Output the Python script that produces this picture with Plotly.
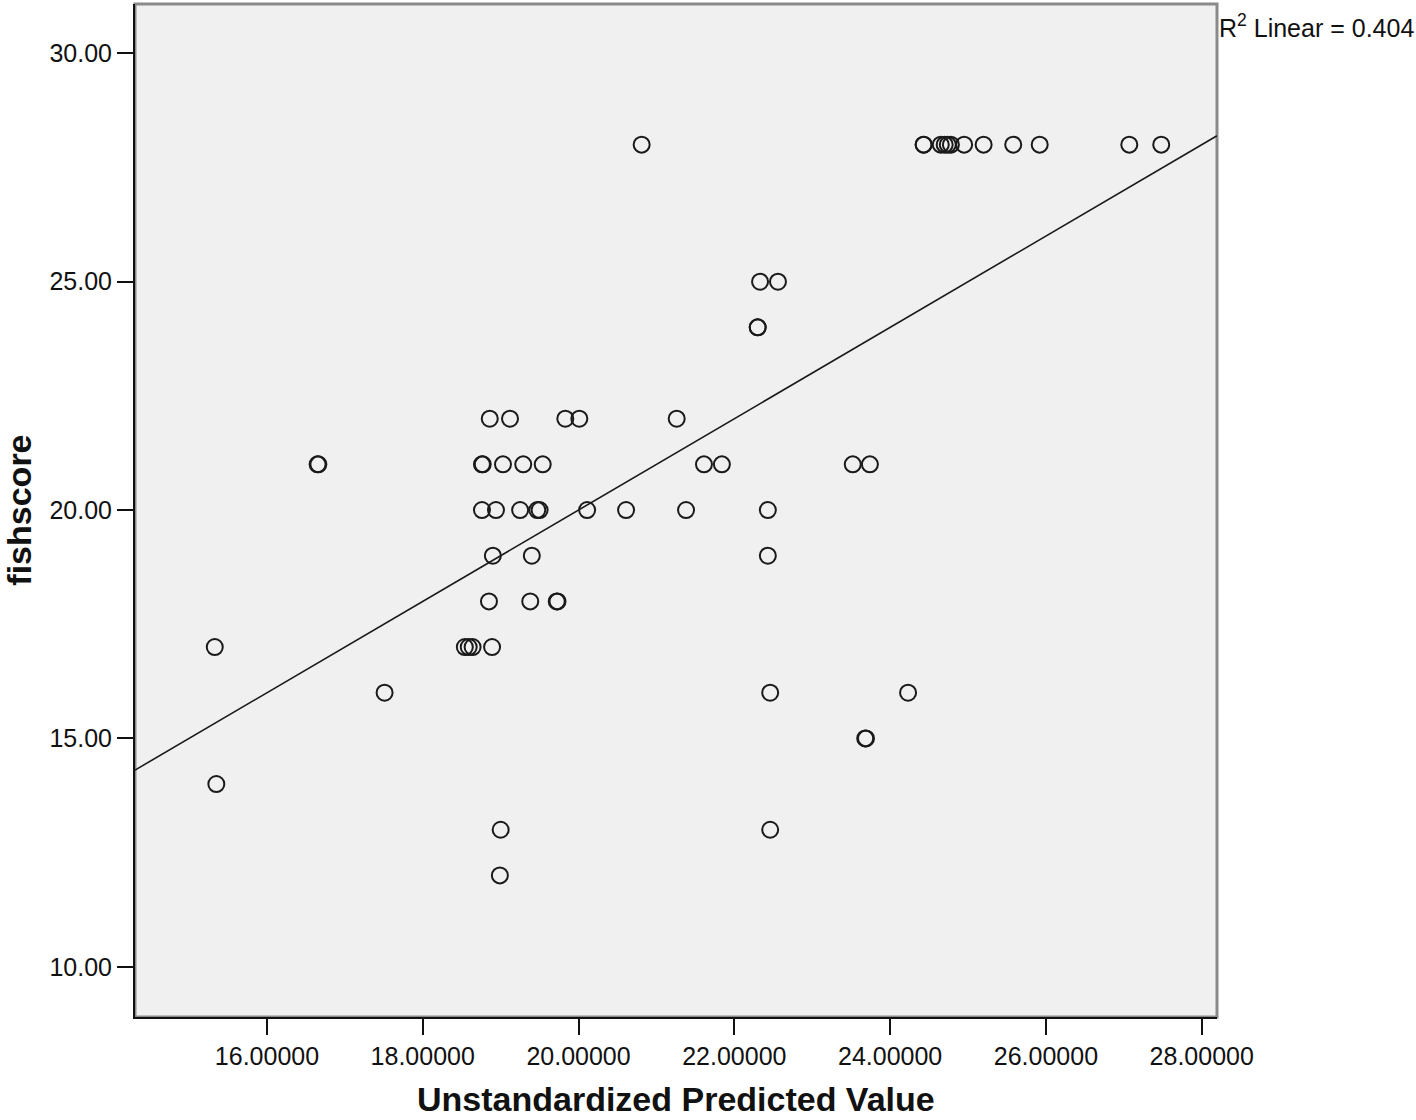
import plotly.graph_objects as go

# unstandardized predicted value vs observed fishscore
predicted = [20.81, 24.43, 24.43, 24.65, 24.70, 24.74, 24.78, 24.95, 25.20, 25.58, 25.92, 27.07, 27.48,
             22.33, 22.56,
             22.30, 22.30,
             18.86, 19.12, 19.83, 20.01, 21.26,
             16.65, 16.66, 18.76, 18.77, 19.03, 19.29, 19.54, 21.61, 21.84, 23.52, 23.74,
             18.76, 18.94, 19.25, 19.47, 19.50, 20.11, 20.61, 21.38, 22.43,
             18.90, 19.40, 22.43,
             18.85, 19.38, 19.72, 19.73,
             15.33, 18.54, 18.59, 18.64, 18.89,
             17.51, 22.46, 24.23,
             23.68, 23.69,
             15.35,
             19.00, 22.46,
             18.99]
fishscore = [28] * 13 + [25] * 2 + [24] * 2 + [22] * 5 + [21] * 11 + [20] * 9 + [19] * 3 + \
            [18] * 4 + [17] * 5 + [16] * 3 + [15] * 2 + [14] + [13] * 2 + [12]

r2_linear = 0.404
fit_slope = 1.0
fit_intercept = 0.0

x_range = [14.306, 28.196]
y_range = [8.90, 31.08]

fig = go.Figure()

fig.add_trace(go.Scatter(x = x_range, y = [fit_intercept + fit_slope * v for v in x_range], mode = 'lines',
    line = dict(color = '#1a1a1a', width = 1.6), hoverinfo = 'skip', showlegend = False))
fig.add_trace(go.Scatter(x = predicted, y = fishscore, mode = 'markers', showlegend = False,
    marker = dict(symbol = 'circle-open', size = 16, color = '#1a1a1a', line = dict(width = 2))))

fig.add_shape(type = 'rect', xref = 'paper', yref = 'paper', x0 = 0, x1 = 1, y0 = 0, y1 = 1,
    line = dict(color = '#8a8a8a', width = 3), layer = 'below')

fig.add_annotation(text = f"R<sup>2</sup> Linear = {r2_linear:.3f}", xref = 'paper', yref = 'paper', x = 1.0, y = 0.996,
    xanchor = 'left', yanchor = 'top', showarrow = False, font = dict(size = 25, color = '#111111'))
fig.add_annotation(text = "<b>Unstandardized Predicted Value</b>", xref = 'paper', yref = 'paper', x = 0.5, y = -0.081,
    xanchor = 'center', yanchor = 'middle', showarrow = False, font = dict(size = 34, color = '#111111'))
fig.add_annotation(text = "<b>fishscore</b>", xref = 'paper', yref = 'paper', x = -0.108, y = 0.5, textangle = -90,
    xanchor = 'center', yanchor = 'middle', showarrow = False, font = dict(size = 34, color = '#111111'))

fig.update_layout(width = 1416, height = 1120, autosize = False, plot_bgcolor = '#f0f0f0', paper_bgcolor = '#ffffff',
    margin = dict(l = 135, r = 199, t = 4, b = 103),
    font = dict(family = 'Liberation Sans, Arial, sans-serif', size = 25, color = '#111111'))

fig.update_xaxes(range = x_range, tick0 = 16, dtick = 2, tickformat = '.5f', showgrid = False, zeroline = False,
    showline = True, linewidth = 2, linecolor = '#111111', ticks = 'outside', ticklen = 16, tickwidth = 2, tickcolor = '#111111')
fig.update_yaxes(range = y_range, tick0 = 10, dtick = 5, tickformat = '.2f', showgrid = False, zeroline = False,
    showline = True, linewidth = 2, linecolor = '#111111', ticks = 'outside', ticklen = 16, tickwidth = 2, tickcolor = '#111111')

# drop the browser's default body margin so the figure sits at the page corner
fig.write_html("out.html", config = {'displayModeBar': False}, post_script = "document.body.style.margin = '0';")
